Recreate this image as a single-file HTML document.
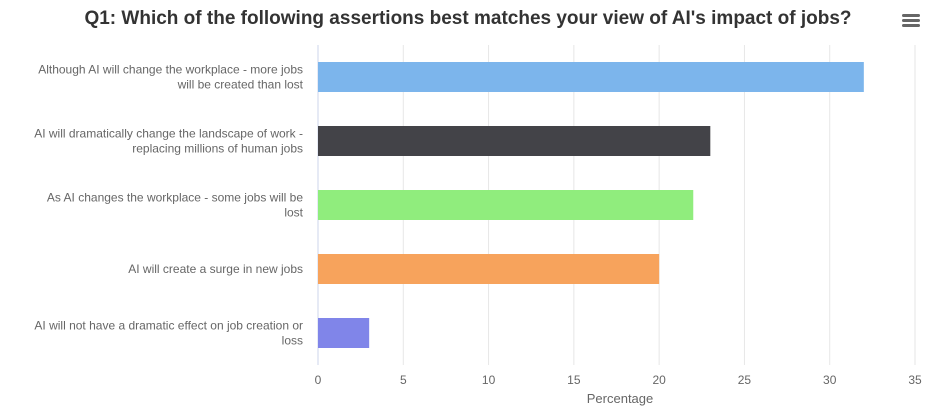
<!DOCTYPE html>
<html><head><meta charset="utf-8"><style>
html,body{margin:0;padding:0;background:#fff;}
svg text{font-family:"Liberation Sans",sans-serif;}
</style></head><body>
<svg id="chart" width="939" height="406" xmlns="http://www.w3.org/2000/svg">
<text x="468" y="24" text-anchor="middle" font-size="19" font-weight="bold" fill="#333">Q1: Which of the following assertions best matches your view of AI's impact of jobs?</text>
<g>
<rect x="902" y="14" width="18" height="3" rx="1.5" fill="#666"/>
<rect x="902" y="19" width="18" height="3" rx="1.5" fill="#666"/>
<rect x="902" y="24" width="18" height="3" rx="1.5" fill="#666"/>
</g>
<g id="grid"></g><g id="bars"></g><g id="labels"></g><g id="ticks"></g>
<text x="620" y="403" text-anchor="middle" font-size="13" fill="#666">Percentage</text>
</svg>
<script>
const categories=[["Although AI will change the workplace - more jobs","will be created than lost"],["AI will dramatically change the landscape of work -","replacing millions of human jobs"],["As AI changes the workplace - some jobs will be","lost"],["AI will create a surge in new jobs"],["AI will not have a dramatic effect on job creation or","loss"]];
const values=[32,23,22,20,3];
const colors=["#7cb5ec","#434348","#90ed7d","#f7a35c","#8085e9"];
const tickLabels=[0,5,10,15,20,25,30,35];
const X0=318,X1=915,Y0=45,Y1=365,XMAX=35;
const ns="http://www.w3.org/2000/svg";
const x=v=>X0+(X1-X0)*v/XMAX;
const band=(Y1-Y0)/categories.length;
const y=i=>Y0+band*(i+0.5);
function mk(t,a,p){const e=document.createElementNS(ns,t);for(const k in a)e.setAttribute(k,a[k]);p.appendChild(e);return e;}
const grid=document.getElementById('grid'),bars=document.getElementById('bars'),labels=document.getElementById('labels'),ticks=document.getElementById('ticks');
tickLabels.forEach(t=>{
 const l=mk('line',{x1:x(t),x2:x(t),y1:Y0,y2:Y1,stroke:t===0?'#ccd6eb':'#e6e6e6','stroke-width':1},grid);
 
 
 const tx=mk('text',{x:x(t),y:384,'text-anchor':'middle','font-size':12,fill:'#666'},ticks);
 tx.textContent=t;
 
 
});
values.forEach((v,i)=>{
 const r=mk('rect',{x:X0,y:y(i)-15,width:x(v)-X0,height:30,fill:colors[i]},bars);
 
 
 const lines=categories[i];
 const t=mk('text',{x:303,'text-anchor':'end','font-size':12,fill:'#666'},labels);
 
 
 lines.forEach((s,j)=>{const ts=mk('tspan',{x:303,y:y(i)+4+(j-(lines.length-1)/2)*15},t);ts.textContent=s;});
});
</script>
</body></html>
